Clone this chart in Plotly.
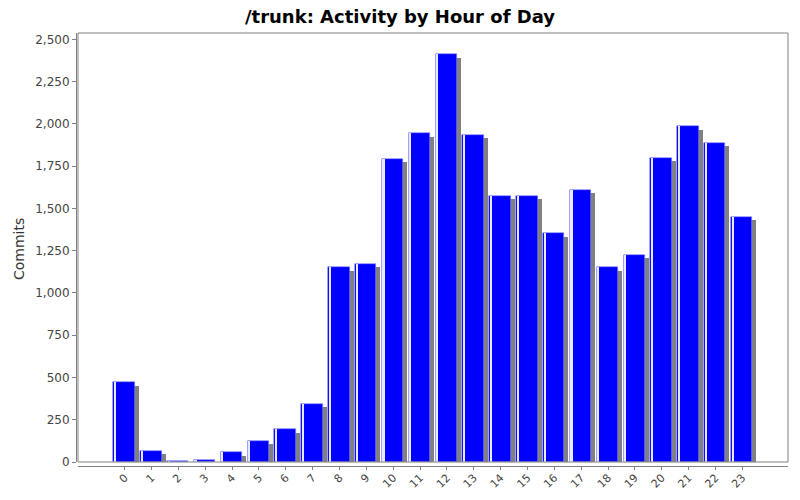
import plotly.graph_objects as go

hours = list(range(24))
hour_labels = [str(h) for h in hours]
commits = [472, 67, 3, 10, 57, 124, 193, 343, 1152, 1172, 1793, 1944, 2413, 1937,
           1576, 1576, 1352, 1609, 1151, 1225, 1801, 1986, 1890, 1452]
y_ticks = [0, 250, 500, 750, 1000, 1250, 1500, 1750, 2000, 2250, 2500]

SHADOW_DROP = 20  # shadow drop in value units (visual offset)
shadow_vals = [max(v - SHADOW_DROP, 0) for v in commits]

fig = go.Figure()
fig.add_trace(go.Bar(x=hours, y=shadow_vals, width=0.797, offset=-0.276,
                     marker=dict(color="#808080", line=dict(width=0)),
                     hoverinfo="skip", showlegend=False))
fig.add_trace(go.Bar(x=hours, y=commits, width=0.797, offset=-0.425,
                     marker=dict(color="#0000ff", line=dict(width=0.6, color="#8c8cff")),
                     showlegend=False, name="Commits"))
fig.add_trace(go.Bar(x=hours, y=commits, width=0.06, offset=-0.385,
                     marker=dict(color="#e8e8ff", line=dict(width=0)),
                     hoverinfo="skip", showlegend=False))

# page body has an 8px margin, so the figure is laid out 8px smaller
OFF = 8
W, H = 800 - OFF, 500 - OFF
ml, mt = 76 - OFF, 33 - OFF
mr = W - (788 - OFF)
mb = H - (466 - OFF)
pw = W - ml - mr
ph = H - mt - mb

fig.update_layout(
    width=W, height=H,
    margin=dict(l=ml, r=mr, t=mt, b=mb, pad=0, autoexpand=False),
    paper_bgcolor="white", plot_bgcolor="white",
    barmode="overlay", bargap=0,
    font=dict(family="DejaVu Sans", size=12, color="#444444"),
    title=dict(text="<b>/trunk: Activity by Hour of Day</b>", x=(400 - OFF) / W, xanchor="center",
               xref="container", yref="container", y=1 - 2 / H, yanchor="top",
               pad=dict(t=0, b=0, l=0, r=0), automargin=False,
               font=dict(family="DejaVu Sans", size=18, color="#000000")),
    xaxis=dict(domain=[2 / pw, 1], range=[-1.74, 24.70], anchor="free", position=0,
               tickmode="array", tickvals=hours, ticktext=hour_labels, tickangle=-45,
               ticks="outside", ticklen=3, tickcolor="#808080", ticklabelstandoff=-3,
               showline=True, linecolor="#808080", linewidth=1,
               showgrid=False, zeroline=False, automargin=False,
               tickfont=dict(family="DejaVu Sans", size=11, color="#444444")),
    yaxis=dict(domain=[4 / ph, 1], range=[0, 2538], anchor="free", position=0,
               tickmode="array", tickvals=y_ticks,
               tickformat=",d", ticks="outside", ticklen=4, tickcolor="#808080",
               showline=True, linecolor="#808080", linewidth=1,
               showgrid=False, zeroline=False, automargin=False,
               tickfont=dict(family="DejaVu Sans", size=12, color="#444444")),
    shapes=[dict(type="rect", xref="paper", yref="paper",
                 x0=2 / pw, x1=1, y0=4 / ph, y1=1,
                 line=dict(color="#808080", width=1), fillcolor="rgba(0,0,0,0)", layer="above")],
    annotations=[dict(text="Commits", xref="paper", yref="paper",
                      x=-(ml - (19 - OFF)) / pw, y=(H - mb - (249 - OFF)) / ph,
                      xanchor="center", yanchor="middle", textangle=-90, showarrow=False,
                      font=dict(family="DejaVu Sans", size=14, color="#333333"))],
)

fig.write_html("out.html")
